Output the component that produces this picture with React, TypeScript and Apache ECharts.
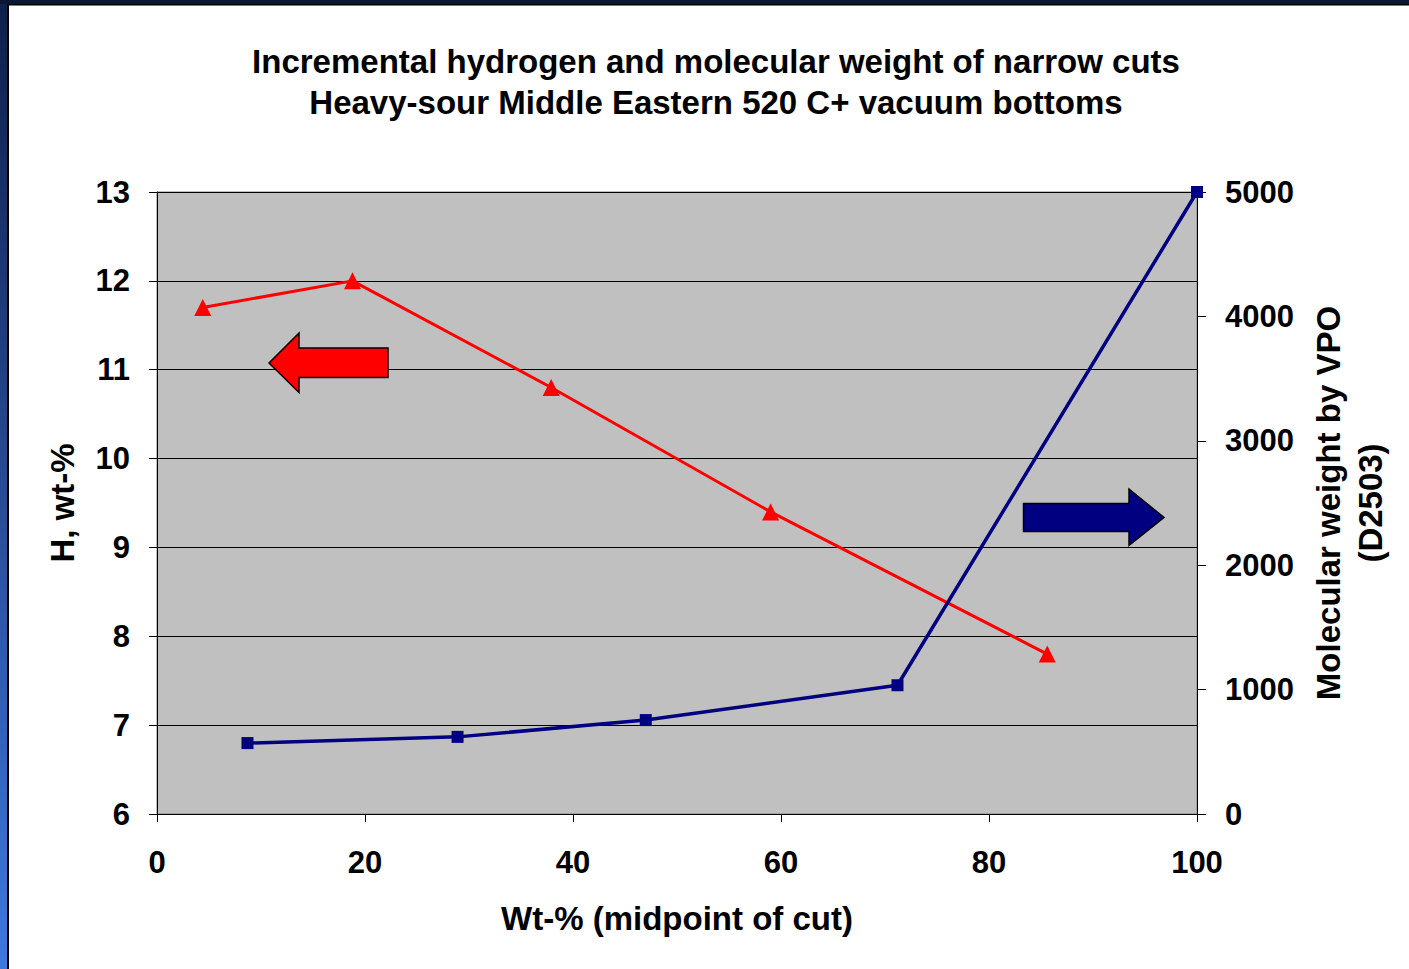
import React, { useEffect, useRef } from "react";
import * as echarts from "echarts";

const TITLE_LINES = [
  "Incremental hydrogen and molecular weight of narrow cuts",
  "Heavy-sour Middle Eastern 520 C+ vacuum bottoms",
];
const X_NAME = "Wt-% (midpoint of cut)";
const Y_LEFT_NAME = "H, wt-%";
const Y_RIGHT_NAME = "Molecular weight by VPO\n(D2503)";

// Hydrogen (left axis)
const hX = [4.4, 18.8, 37.9, 59.0, 85.6];
const hY = [11.7, 12.0, 10.8, 9.4, 7.8];
// Molecular weight (right axis)
const mwX = [8.7, 28.9, 47.0, 71.2, 100];
const mwY = [570, 620, 755, 1035, 5000];

const FONT = "'Liberation Sans', Arial, sans-serif";

export default function App() {
  const ref = useRef<HTMLDivElement>(null);
  useEffect(() => {
    if (!ref.current) return;
    const chart = echarts.init(ref.current, null, { renderer: "svg" });
    const labelStyle = { color: "#000", fontSize: 31, fontWeight: "bold" as const, fontFamily: FONT };
    const nameStyle = { color: "#000", fontSize: 33, fontWeight: "bold" as const, fontFamily: FONT };
    chart.setOption({
      animation: false,
      backgroundColor: "#ffffff",
      title: {
        text: TITLE_LINES.join("\n"),
        left: 711,
        top: 36,
        textAlign: "center",
        textStyle: { color: "#000", fontSize: 33, fontWeight: "bold", fontFamily: FONT, lineHeight: 41 },
      },
      grid: {
        left: 157,
        top: 192,
        width: 1040,
        height: 622,
        show: true,
        backgroundColor: "#C0C0C0",
        borderColor: "#808080",
        borderWidth: 1,
      },
      xAxis: {
        type: "value",
        min: 0,
        max: 100,
        interval: 20,
        name: X_NAME,
        nameLocation: "middle",
        nameGap: 88,
        nameTextStyle: nameStyle,
        axisLine: { lineStyle: { color: "#000", width: 1 } },
        axisTick: { show: true, inside: false, length: 8, lineStyle: { color: "#000" } },
        axisLabel: { ...labelStyle, margin: 33 },
        splitLine: { show: false },
      },
      yAxis: [
        {
          type: "value",
          min: 6,
          max: 13,
          interval: 1,
          position: "left",
          name: Y_LEFT_NAME,
          nameLocation: "middle",
          nameGap: 78,
          nameTextStyle: nameStyle,
          axisLine: { show: true, lineStyle: { color: "#000", width: 1 } },
          axisTick: { show: true, inside: false, length: 8, lineStyle: { color: "#000" } },
          axisLabel: { ...labelStyle, margin: 27 },
          splitLine: { show: true, lineStyle: { color: "#000", width: 1 } },
        },
        {
          type: "value",
          min: 0,
          max: 5000,
          interval: 1000,
          position: "right",
          name: Y_RIGHT_NAME,
          nameLocation: "middle",
          nameGap: 110,
          nameTextStyle: { ...nameStyle, lineHeight: 42 },
          axisLine: { show: true, lineStyle: { color: "#000", width: 1 } },
          axisTick: { show: true, inside: false, length: 9, lineStyle: { color: "#000" } },
          axisLabel: { ...labelStyle, margin: 28, formatter: (v: number) => String(v) },
          splitLine: { show: false },
        },
      ],
      series: [
        {
          name: "H",
          type: "line",
          yAxisIndex: 0,
          data: hX.map((x, i) => [x, hY[i]]),
          symbol: "triangle",
          symbolSize: 17,
          showAllSymbol: true,
          lineStyle: { color: "#FF0000", width: 3 },
          itemStyle: { color: "#FF0000" },
          z: 3,
        },
        {
          name: "MW",
          type: "line",
          yAxisIndex: 1,
          data: mwX.map((x, i) => [x, mwY[i]]),
          symbol: "rect",
          symbolSize: 12,
          showAllSymbol: true,
          lineStyle: { color: "#000080", width: 3.5 },
          itemStyle: { color: "#000080" },
          z: 3,
        },
      ],
      graphic: [
        {
          type: "rect",
          shape: { x: 0, y: 0, width: 8, height: 969 },
          style: {
            fill: new echarts.graphic.LinearGradient(0, 0, 0, 1, [
              { offset: 0, color: "#0f1f4a" },
              { offset: 1, color: "#3f78e0" },
            ]),
          },
          z: 10,
        },
        { type: "rect", shape: { x: 0, y: 0, width: 1409, height: 4 }, style: { fill: "#0b1835" }, z: 10 },
        { type: "rect", shape: { x: 7, y: 4, width: 1402, height: 1.5 }, style: { fill: "#000" }, z: 11 },
        { type: "rect", shape: { x: 7, y: 4, width: 2, height: 965 }, style: { fill: "#000" }, z: 11 },
        {
          type: "polygon",
          shape: {
            points: [
              [269, 363], [299, 333], [299, 348], [388, 348], [388, 377.5], [299, 377.5], [299, 392.5],
            ],
          },
          style: { fill: "#FF0000", stroke: "#000", lineWidth: 1.5 },
          z: 5,
        },
        {
          type: "polygon",
          shape: {
            points: [
              [1023.5, 503.5], [1129, 503.5], [1129, 489], [1164, 517.5], [1129, 545.5], [1129, 531.5], [1023.5, 531.5],
            ],
          },
          style: { fill: "#000080", stroke: "#000", lineWidth: 1.5 },
          z: 5,
        },
      ],
    });
    return () => chart.dispose();
  }, []);
  return (
    <div
      ref={ref}
      style={{ position: "fixed", left: 0, top: 0, width: 1409, height: 969 }}
    />
  );
}
